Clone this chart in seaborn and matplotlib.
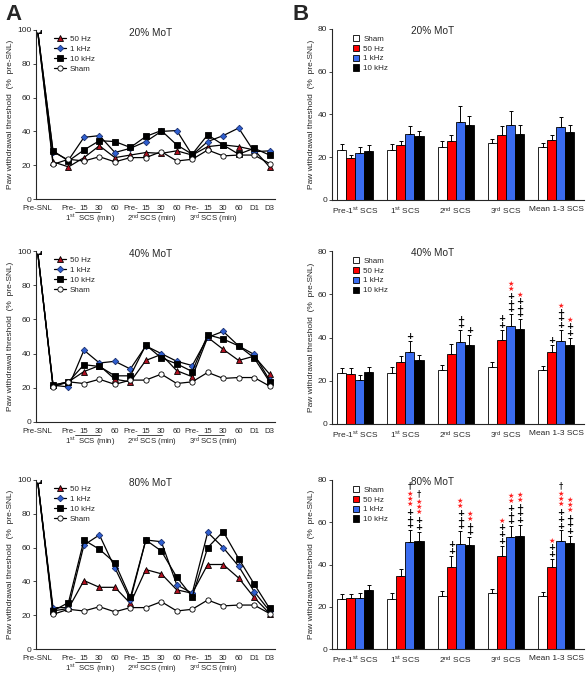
import itertools
import matplotlib
matplotlib.use("Agg")
import matplotlib.pyplot as plt
import matplotlib.transforms as mtransforms
import numpy as np
import pandas as pd
import seaborn as sns

# ---- line panels (A) ----
x_labels = ["Pre-SNL", "", "Pre-", "15", "30", "60", "Pre-", "15", "30", "60",
            "Pre-", "15", "30", "60", "D1", "D3"]
sham_line = [100, 20.5, 23.5, 22.5, 25, 22, 24.5, 24.5, 28, 22.5, 23.5, 29, 25.5, 26, 26, 21]

hz50_20 = [100, 22, 19, 24.5, 31.5, 24.5, 26, 27.5, 27, 28.5, 26, 31, 32, 31, 29, 19]
k1_20 = [100, 28, 23, 36.5, 37.5, 27.5, 30, 34, 40, 40.5, 26, 34, 37.5, 42, 28, 28.5]
k10_20 = [100, 28.5, 22.5, 29, 34.5, 34, 30.5, 37, 40.5, 32, 26.5, 38, 32, 26.5, 30, 26]

hz50_40 = [100, 21.5, 23.5, 29.5, 33, 25, 23.5, 36, 39.5, 30, 26.5, 49.5, 42.5, 36, 38.5, 28]
k1_40 = [100, 21.5, 20.5, 42, 34.5, 35.5, 31, 44.5, 40, 35.5, 33, 49.5, 53, 44.5, 39.5, 24.5]
k10_40 = [100, 21.5, 23.5, 33.5, 32.5, 27, 27, 45, 37.5, 34, 29.5, 51, 48.5, 44.5, 37.5, 23.5]

hz50_80 = [100, 22.5, 24, 40.5, 36.5, 36.5, 27, 47, 44.5, 35, 33, 50, 50, 42, 30.5, 21]
k1_80 = [100, 24.5, 24.5, 61.5, 67.5, 48, 29, 64.5, 63.5, 38, 33, 69, 60, 49, 34, 22.5]
k10_80 = [100, 22.5, 27.5, 64.5, 59, 51, 30.5, 64.5, 58, 42.5, 31, 60, 69.5, 53.5, 38.5, 24]

scs_labels = ["1$^{st}$  SCS (min)", "2$^{nd}$ SCS (min)", "3$^{rd}$ SCS (min)"]

# ---- bar panels (B) ----
groups = ["Pre-1$^{st}$ SCS", "1$^{st}$ SCS", "2$^{nd}$ SCS", "3$^{rd}$ SCS", "Mean 1-3 SCS"]
series = ["Sham", "50 Hz", "1 kHz", "10 kHz"]

sham_bar = [23.5, 23.5, 25, 26.5, 25]
sham_err = [2.6, 2.8, 2.5, 2.1, 1.9]

hz50_bar_20 = [19.5, 25.5, 27.5, 30.5, 28]
hz50_err_20 = [1.5, 2, 2.8, 4.2, 2.3]
k1_bar_20 = [22, 31, 36.5, 35, 34]
k1_err_20 = [2.7, 3.6, 7.5, 6.6, 4.9]
k10_bar_20 = [23, 30, 35, 31, 32]
k10_err_20 = [2.5, 2.2, 4.2, 4, 3.2]

hz50_bar_40 = [23, 28.5, 32.5, 39, 33.5]
hz50_err_40 = [3, 3, 4.3, 4.5, 3.2]
k1_bar_40 = [20.5, 33.5, 38, 45.5, 38.5]
k1_err_40 = [2, 5, 5.3, 5.2, 4.9]
k10_bar_40 = [24, 29.5, 36.5, 44, 36.5]
k10_err_40 = [2.5, 2.5, 4.7, 4.4, 3.4]

hz50_bar_80 = [24, 34.5, 39, 44, 39]
hz50_err_80 = [2, 3.6, 5, 4.8, 3.8]
k1_bar_80 = [24, 50.5, 49.5, 53, 51]
k1_err_80 = [2.7, 5.7, 6.2, 5.1, 5.1]
k10_bar_80 = [28, 51, 49, 53.5, 50]
k10_err_80 = [2.3, 4.4, 3.9, 5.2, 3.5]

# significance marks, bottom to top (+ vs sham, * vs 50 Hz, dagger vs 1 kHz)
marks_none = ["", "", "", "", ""]
hz50_marks_40 = ["", "", "", "++", "+"]
k1_marks_40 = ["", "+", "++", "+++**", "+++*"]
k10_marks_40 = ["", "", "+", "+++*", "++*"]
hz50_marks_80 = ["", "", "++", "+++*", "++*"]
k1_marks_80 = ["", "+++***\u2020", "+++**", "+++**", "+++***\u2020"]
k10_marks_80 = ["", "++***\u2020", "++**", "+++**", "+++***"]

titles = ["20% MoT", "40% MoT", "80% MoT"]

sns.set_style("ticks")
plt.rcParams["font.family"] = ["Liberation Sans", "DejaVu Sans"]
plt.rcParams["mathtext.default"] = "regular"
plt.rcParams["axes.linewidth"] = 0.8

fig = plt.figure(figsize=(5.88, 6.75), dpi=100)
W, H = 588.0, 675.0


def px_axes(x0, y0, x1, y1):
    return fig.add_axes([x0 / W, 1 - y1 / H, (x1 - x0) / W, (y1 - y0) / H])


line_rows = [(30, 199), (251, 422), (480, 649)]
bar_rows = [(29, 200), (251, 424), (480, 649)]

line_sets = [(hz50_20, k1_20, k10_20), (hz50_40, k1_40, k10_40), (hz50_80, k1_80, k10_80)]
bar_sets = [
    (hz50_bar_20, hz50_err_20, k1_bar_20, k1_err_20, k10_bar_20, k10_err_20,
     marks_none, marks_none, marks_none),
    (hz50_bar_40, hz50_err_40, k1_bar_40, k1_err_40, k10_bar_40, k10_err_40,
     hz50_marks_40, k1_marks_40, k10_marks_40),
    (hz50_bar_80, hz50_err_80, k1_bar_80, k1_err_80, k10_bar_80, k10_err_80,
     hz50_marks_80, k1_marks_80, k10_marks_80),
]

xs = np.arange(len(x_labels))
styles = [
    ("50 Hz", "^", "#b01020"),
    ("1 kHz", "D", "#2f5fd0"),
    ("10 kHz", "s", "black"),
    ("Sham", "o", "white"),
]

for r in range(3):
    ax = px_axes(36, line_rows[r][0], 275, line_rows[r][1])
    vals = list(line_sets[r]) + [sham_line]
    for (lab, mk, fc), v in zip(styles, vals):
        ms = 3.3 if mk == "D" else 3.8
        sns.lineplot(x=xs, y=v, ax=ax, color="black", lw=0.9, marker=mk, markersize=ms,
                     markerfacecolor=fc, markeredgecolor="black" if fc != "#2f5fd0" else "#1a2f70",
                     markeredgewidth=0.6, label=lab)
    ax.set_xlim(-0.1, 15.35)
    ax.set_ylim(0, 100)
    ax.set_yticks([0, 20, 40, 60, 80, 100])
    ax.set_xticks(xs)
    ax.set_xticklabels(x_labels, fontsize=5.6)
    ax.tick_params(axis="x", length=0, pad=4)
    ax.tick_params(axis="y", length=2, width=0.6, labelsize=6, pad=1.5)
    sns.despine(ax=ax)
    ax.set_ylabel("Paw withdrawal threshold  (%  pre-SNL)", fontsize=6, labelpad=2)
    ax.text(0.48, 0.965, titles[r], transform=ax.transAxes, ha="center", va="baseline",
            fontsize=7.2)
    trans = mtransforms.blended_transform_factory(ax.transData, ax.transAxes)
    for xc, lab in zip([3.4, 7.4, 11.4], scs_labels):
        ax.text(xc, -0.118, lab, transform=trans, ha="center", va="center", fontsize=5.6)
        ax.plot([xc - 1.0, xc + 0.65], [-0.074, -0.074], transform=trans, color="black",
                lw=0.5, clip_on=False)
    ax.legend(loc="upper left", bbox_to_anchor=(0.06, 0.99), frameon=False, fontsize=5.8,
              handlelength=1.6, handletextpad=0.4, labelspacing=0.3, borderaxespad=0)

# symbol look: (glyph, colour, size, weight, linespacing)
sym_style = {
    "+": ("+", "black", 6.2, "bold", 0.68),
    "*": ("\u2605", "#ff2020", 5.2, "normal", 0.81),
    "\u2020": ("\u2020", "black", 6, "normal", 0.7),
}
step = 6.7

bar_colors = ["white", "#ff0000", "#3a6cf0", "black"]
for r in range(3):
    ax = px_axes(332, bar_rows[r][0], 584, bar_rows[r][1])
    hb, he, kb, ke, tb, te, hm, km, tm = bar_sets[r]
    means = [sham_bar, hb, kb, tb]
    errs = [sham_err, he, ke, te]
    marks = [marks_none, hm, km, tm]
    df = pd.DataFrame({
        "group": np.tile(groups, 4),
        "series": np.repeat(series, 5),
        "value": np.concatenate(means),
    })
    sns.barplot(data=df, x="group", y="value", hue="series", hue_order=series,
                palette=bar_colors, edgecolor="black", linewidth=0.6, width=0.72,
                errorbar=None, ax=ax, saturation=1)
    bar_conts = list(ax.containers)[:4]
    for i, cont in enumerate(bar_conts):
        cx = np.array([b.get_x() + b.get_width() / 2 for b in cont.patches])
        m = np.array(means[i])
        e = np.array(errs[i])
        ax.errorbar(cx, m, yerr=[np.zeros_like(e), e], fmt="none", ecolor="black",
                    elinewidth=0.7, capsize=1.4, capthick=0.7, zorder=3)
        for j in range(5):
            k0 = 0
            for ch, grp in itertools.groupby(marks[i][j]):
                n = len(list(grp))
                sym, col, fs, fw, ls = sym_style[ch]
                ax.annotate("\n".join([sym] * n), xy=(cx[j], m[j] + e[j]),
                            xytext=(0, 4.5 + step * (k0 + (n - 1) / 2)),
                            textcoords="offset pixels", ha="center", va="center",
                            fontsize=fs, color=col, fontweight=fw, linespacing=ls,
                            family=["DejaVu Sans"])
                k0 += n
    ax.set_xlim(-0.46, 4.55)
    ax.set_ylim(0, 80)
    ax.set_yticks([0, 20, 40, 60, 80])
    ax.set_xlabel("")
    ax.set_ylabel("Paw withdrawal threshold  (%  pre-SNL)", fontsize=6, labelpad=2)
    ax.tick_params(axis="x", length=0, labelsize=6, pad=4)
    ax.tick_params(axis="y", length=2, width=0.6, labelsize=6, pad=1.5)
    sns.despine(ax=ax)
    ax.text(0.40, 0.97, titles[r], transform=ax.transAxes, ha="center", va="baseline",
            fontsize=7.2)
    ax.legend(loc="upper left", bbox_to_anchor=(0.07, 0.985), frameon=False, fontsize=5.8,
              handlelength=0.8, handleheight=0.8, handletextpad=0.5, labelspacing=0.25,
              borderaxespad=0)

fig.text(5 / W, 1 - 4 / H, "A", fontsize=16, fontweight="bold", ha="left", va="top")
fig.text(293 / W, 1 - 4 / H, "B", fontsize=16, fontweight="bold", ha="left", va="top")

fig.savefig("out.png", dpi=100)
